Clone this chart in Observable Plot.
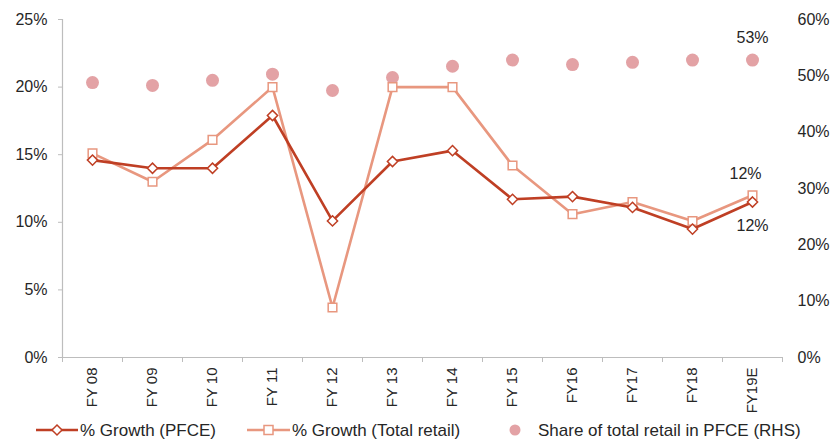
<!DOCTYPE html>
<html>
<head>
<meta charset="utf-8">
<script src="https://cdn.jsdelivr.net/npm/d3@7"></script>
<script src="https://cdn.jsdelivr.net/npm/@observablehq/plot@0.6"></script>
<style>
  body { margin: 0; background: #fff; }
  #chart { width: 836px; }
  svg text { font-family: "Liberation Sans", Arial, sans-serif; }
</style>
</head>
<body>
<div id="chart"></div>
<script>
const categories = ["FY 08","FY 09","FY 10","FY 11","FY 12","FY 13","FY 14","FY 15","FY16","FY17","FY18","FY19E"];
const pfceGrowth = [14.6,14.0,14.0,17.9,10.1,14.5,15.3,11.7,11.9,11.1,9.5,11.5];
const retailGrowth = [15.1,13.0,16.1,20.0,3.7,20.0,20.0,14.2,10.6,11.5,10.1,12.0];
const retailShare = [48.8,48.3,49.2,50.3,47.4,49.7,51.7,52.8,52.0,52.4,52.8,52.8];
const leftTicks = [0,5,10,15,20,25];
const rightTicks = [0,10,20,30,40,50,60];
const seriesNames = ["% Growth (PFCE)","% Growth (Total retail)","Share of total retail in PFCE (RHS)"];

const C_PFCE = "#BF3F24";
const C_RETAIL = "#E8977F";
const C_SHARE = "#E3A2A5";
const AX = "#BDBDBD";
const TXT = "#262626";

const LMAX = 25, RMAX = 60;
const toLeft = v => v * LMAX / RMAX;

const rows = categories.map((c, i) => ({i, c, pfce: pfceGrowth[i], retail: retailGrowth[i], share: retailShare[i]}));

const chart = Plot.plot({
  width: 836,
  height: 417,
  marginLeft: 62,
  marginRight: 54,
  marginTop: 19,
  marginBottom: 60,
  x: {domain: [-0.5, categories.length - 0.5], axis: null, label: null},
  y: {domain: [0, LMAX], axis: null, label: null},
  style: {fontFamily: "Liberation Sans, Arial, sans-serif", fontSize: "16px", color: TXT, background: "#fff"},
  marks: [
    Plot.ruleY([0], {stroke: AX, strokeWidth: 1.2}),
    Plot.ruleX([-0.5], {stroke: AX, strokeWidth: 1.2}),
    Plot.axisY(leftTicks, {anchor: "left", label: null, tickSize: 4, tickPadding: 11, stroke: AX, fill: TXT, tickFormat: d => d + "%"}),
    Plot.axisY(rightTicks.map(toLeft), {anchor: "right", label: null, tickSize: 0, tickPadding: 15, fill: TXT, tickFormat: d => Math.round(d * RMAX / LMAX) + "%"}),
    Plot.axisX(d3.range(-0.5, categories.length, 1), {anchor: "bottom", label: null, tickSize: 5, stroke: AX, tickFormat: () => ""}),
    Plot.axisX(d3.range(categories.length), {anchor: "bottom", label: null, tickSize: 0, tickPadding: 10, tickRotate: -90, fontSize: 15, fill: TXT, tickFormat: i => categories[i]}),
    Plot.dot(rows, {x: "i", y: d => toLeft(d.share), r: 6.5, fill: C_SHARE, stroke: "none"}),
    Plot.line(rows, {x: "i", y: "retail", stroke: C_RETAIL, strokeWidth: 2.6}),
    Plot.dot(rows, {x: "i", y: "retail", symbol: "square2", r: 5.5, fill: "white", stroke: C_RETAIL, strokeWidth: 1.5}),
    Plot.line(rows, {x: "i", y: "pfce", stroke: C_PFCE, strokeWidth: 2.6}),
    Plot.dot(rows, {x: "i", y: "pfce", symbol: "diamond2", r: 4.6, fill: "white", stroke: C_PFCE, strokeWidth: 1.5}),
    Plot.text([rows[rows.length - 1]], {x: "i", y: d => toLeft(d.share), text: d => Math.round(d.share) + "%", dy: -22, fill: TXT, fontSize: 16}),
    Plot.text([rows[rows.length - 1]], {x: "i", y: "retail", text: d => Math.round(d.retail) + "%", dy: -21, dx: -7, fill: TXT, fontSize: 16}),
    Plot.text([rows[rows.length - 1]], {x: "i", y: "pfce", text: d => Math.round(d.pfce) + "%", dy: 24, fill: TXT, fontSize: 16})
  ]
});
document.getElementById("chart").appendChild(chart);

// Legend below the chart
const ns = "http://www.w3.org/2000/svg";
const leg = document.createElementNS(ns, "svg");
leg.setAttribute("width", 836);
leg.setAttribute("height", 29);
leg.style.display = "block";
const cy = 13;
function el(tag, attrs) {
  const e = document.createElementNS(ns, tag);
  for (const k in attrs) e.setAttribute(k, attrs[k]);
  leg.appendChild(e);
  return e;
}
function label(x, t) {
  const e = el("text", {x, y: cy, "dominant-baseline": "central", "font-size": 17, fill: TXT});
  e.textContent = t;
}
// PFCE
el("line", {x1: 36, x2: 78, y1: cy, y2: cy, stroke: C_PFCE, "stroke-width": 2.6});
el("path", {d: `M57,${cy-5} L62,${cy} L57,${cy+5} L52,${cy} Z`, fill: "white", stroke: C_PFCE, "stroke-width": 1.5});
label(80, seriesNames[0]);
// Retail
el("line", {x1: 247, x2: 290, y1: cy, y2: cy, stroke: C_RETAIL, "stroke-width": 2.6});
el("rect", {x: 264, y: cy - 4.5, width: 9, height: 9, fill: "white", stroke: C_RETAIL, "stroke-width": 1.5});
label(292, seriesNames[1]);
// Share
el("circle", {cx: 515, cy, r: 5.5, fill: C_SHARE});
label(538, seriesNames[2]);
document.getElementById("chart").appendChild(leg);
</script>
</body>
</html>
